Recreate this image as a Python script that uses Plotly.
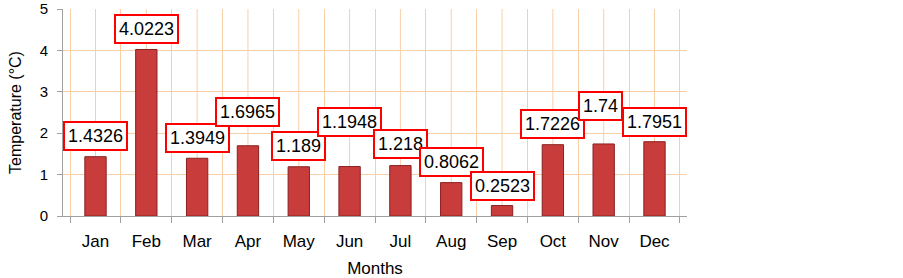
import plotly.graph_objects as go

months = ["Jan", "Feb", "Mar", "Apr", "May", "Jun", "Jul", "Aug", "Sep", "Oct", "Nov", "Dec"]
temps = [1.4326, 4.0223, 1.3949, 1.6965, 1.189, 1.1948, 1.218, 0.8062, 0.2523, 1.7226, 1.74, 1.7951]
labels = ["1.4326", "4.0223", "1.3949", "1.6965", "1.189", "1.1948", "1.218", "0.8062", "0.2523", "1.7226", "1.74", "1.7951"]
y_ticks = [0, 1, 2, 3, 4, 5]

# styling: extra lift of each value label above its bar (pixels)
label_lift = [6, 5, 5, 19, 6, 30, 7, 6, 5, 6, 23, 5]
label_dx = [0, 0, 0, 0, 0, 0, 0, 0, 0, 0, -3, 0]

GRID = "#F9CFA8"
AXIS = "#A0A0A0"
FONT = "Liberation Sans, Arial, sans-serif"

fig = go.Figure()
fig.add_trace(go.Bar(
    x=months, y=temps, width=0.42,
    marker=dict(color="#C93C3C", line=dict(color="#8A2020", width=1)),
    showlegend=False, hoverinfo="x+y",
))

# center grid lines (in addition to boundary grid lines)
for m in months:
    fig.add_shape(type="line", xref="x", yref="paper", x0=m, x1=m, y0=0, y1=1,
                  line=dict(color=GRID, width=1), layer="below")

for m, v, t, lift, dx in zip(months, temps, labels, label_lift, label_dx):
    fig.add_annotation(x=m, y=v, text=t, showarrow=False, yanchor="bottom",
                       yshift=lift, xshift=dx,
                       font=dict(family=FONT, size=18, color="black"),
                       bgcolor="white", bordercolor="#FF0000", borderwidth=2, borderpad=3)

fig.update_layout(
    width=903, height=278,
    margin=dict(l=63, r=216, t=9, b=62),
    paper_bgcolor="white", plot_bgcolor="white",
    font=dict(family=FONT, color="black"),
    bargap=0.58,
)
fig.update_xaxes(
    type="category", categoryorder="array", categoryarray=months,
    tickson="boundaries", showgrid=True, gridcolor=GRID, gridwidth=1,
    ticks="outside", ticklen=6, tickcolor=AXIS,
    showline=True, linecolor=AXIS, linewidth=1,
    tickfont=dict(size=17, family=FONT), ticklabelstandoff=10,
    automargin=False,
    title=dict(text="Months", font=dict(size=17, family=FONT), standoff=18),
)
fig.update_yaxes(
    range=[0, 5], tickvals=y_ticks, showgrid=True, gridcolor=GRID, gridwidth=1,
    ticks="outside", ticklen=5, tickcolor=AXIS,
    showline=True, linecolor=AXIS, linewidth=1, zeroline=False,
    tickfont=dict(size=15, family=FONT), ticklabelstandoff=6,
    ticklabeloverflow="allow",
    automargin=False,
    title=dict(text="Temperature (°C)", font=dict(size=16, family=FONT), standoff=14),
)

fig.write_html("out.html", config={"displayModeBar": False},
               post_script="document.body.style.margin='0';")
